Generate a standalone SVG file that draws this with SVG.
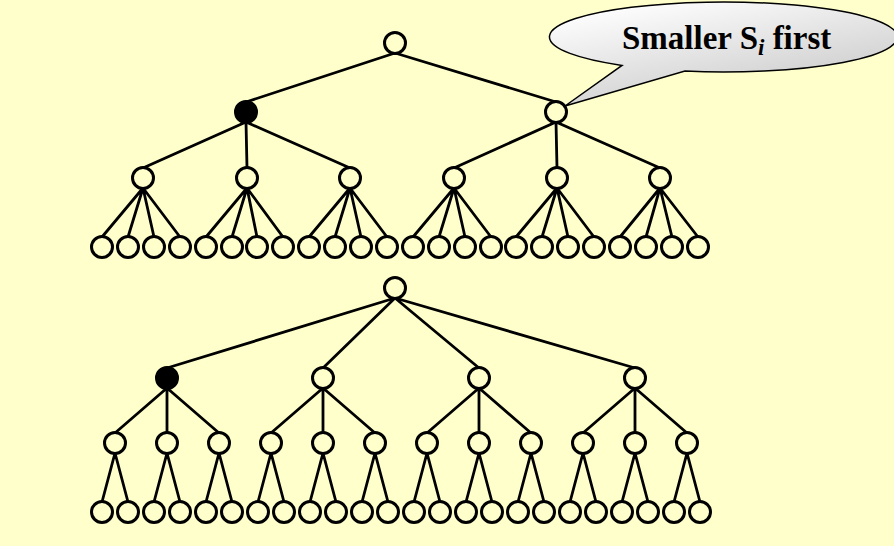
<svg xmlns="http://www.w3.org/2000/svg" width="894" height="546" viewBox="0 0 894 546">
<defs>
<linearGradient id="cg" x1="0.2" y1="0" x2="0.8" y2="1">
<stop offset="0" stop-color="#ffffff"/>
<stop offset="1" stop-color="#c4c4c4"/>
</linearGradient>
<style>
.n{fill:#ffffcc;stroke:#000;stroke-width:3}
.f{fill:#000;stroke:#000;stroke-width:3}
.c path{fill:none;stroke:#000;stroke-width:2.8}
.t{font-family:"Liberation Serif","Times New Roman",serif;font-weight:bold;font-size:33px;fill:#000}
</style>
</defs>
<rect width="894" height="546" fill="#ffffcc"/>
<g id="connectors" class="c">
<path d="M395,53L246,102M395,53L556,102"/>
<path d="M246,122L143,168M246,122L247,168M246,122L350,168M556,122L454,168M556,122L557,168M556,122L660,168"/>
<path d="M143,188L102,237M143,188L128,237M143,188L154,237M143,188L180,237"/>
<path d="M247,188L206,237M247,188L232,237M247,188L257,237M247,188L283,237"/>
<path d="M350,188L309,237M350,188L335,237M350,188L361,237M350,188L387,237"/>
<path d="M454,188L413,237M454,188L439,237M454,188L465,237M454,188L491,237"/>
<path d="M557,188L516,237M557,188L542,237M557,188L568,237M557,188L594,237"/>
<path d="M660,188L620,237M660,188L646,237M660,188L672,237M660,188L698,237"/>
<path d="M395,298L167,368M395,298L323,368M395,298L479,368M395,298L635,368"/>
<path d="M167,388L115,433M167,388L167,433M167,388L219,433M323,388L271,433M323,388L323,433M323,388L375,433M479,388L427,433M479,388L479,433M479,388L531,433M635,388L583,433M635,388L635,433M635,388L687,433"/>
<path d="M115,453L102,502M115,453L128,502M167,453L154,502M167,453L180,502M219,453L206,502M219,453L232,502M271,453L258,502M271,453L284,502M323,453L310,502M323,453L336,502M375,453L362,502M375,453L388,502M427,453L414,502M427,453L440,502M479,453L466,502M479,453L492,502M531,453L518,502M531,453L544,502M583,453L570,502M583,453L596,502M635,453L622,502M635,453L648,502M687,453L674,502M687,453L700,502"/>
</g>
<g id="t1-root"><circle class="n" cx="395" cy="43" r="10.5"/></g>
<g id="t1-a"><circle class="f" cx="246" cy="112" r="10.5"/></g>
<g id="t1-b"><circle class="n" cx="556" cy="112" r="10.5"/></g>
<g id="t1-l2-1"><circle class="n" cx="143" cy="178" r="10.5"/></g>
<g id="t1-l2-2"><circle class="n" cx="247" cy="178" r="10.5"/></g>
<g id="t1-l2-3"><circle class="n" cx="350" cy="178" r="10.5"/></g>
<g id="t1-l2-4"><circle class="n" cx="454" cy="178" r="10.5"/></g>
<g id="t1-l2-5"><circle class="n" cx="557" cy="178" r="10.5"/></g>
<g id="t1-l2-6"><circle class="n" cx="660" cy="178" r="10.5"/></g>
<g id="t1-leaf-1"><circle class="n" cx="102" cy="247" r="10.5"/></g>
<g id="t1-leaf-2"><circle class="n" cx="128" cy="247" r="10.5"/></g>
<g id="t1-leaf-3"><circle class="n" cx="154" cy="247" r="10.5"/></g>
<g id="t1-leaf-4"><circle class="n" cx="180" cy="247" r="10.5"/></g>
<g id="t1-leaf-5"><circle class="n" cx="206" cy="247" r="10.5"/></g>
<g id="t1-leaf-6"><circle class="n" cx="232" cy="247" r="10.5"/></g>
<g id="t1-leaf-7"><circle class="n" cx="257" cy="247" r="10.5"/></g>
<g id="t1-leaf-8"><circle class="n" cx="283" cy="247" r="10.5"/></g>
<g id="t1-leaf-9"><circle class="n" cx="309" cy="247" r="10.5"/></g>
<g id="t1-leaf-10"><circle class="n" cx="335" cy="247" r="10.5"/></g>
<g id="t1-leaf-11"><circle class="n" cx="361" cy="247" r="10.5"/></g>
<g id="t1-leaf-12"><circle class="n" cx="387" cy="247" r="10.5"/></g>
<g id="t1-leaf-13"><circle class="n" cx="413" cy="247" r="10.5"/></g>
<g id="t1-leaf-14"><circle class="n" cx="439" cy="247" r="10.5"/></g>
<g id="t1-leaf-15"><circle class="n" cx="465" cy="247" r="10.5"/></g>
<g id="t1-leaf-16"><circle class="n" cx="491" cy="247" r="10.5"/></g>
<g id="t1-leaf-17"><circle class="n" cx="516" cy="247" r="10.5"/></g>
<g id="t1-leaf-18"><circle class="n" cx="542" cy="247" r="10.5"/></g>
<g id="t1-leaf-19"><circle class="n" cx="568" cy="247" r="10.5"/></g>
<g id="t1-leaf-20"><circle class="n" cx="594" cy="247" r="10.5"/></g>
<g id="t1-leaf-21"><circle class="n" cx="620" cy="247" r="10.5"/></g>
<g id="t1-leaf-22"><circle class="n" cx="646" cy="247" r="10.5"/></g>
<g id="t1-leaf-23"><circle class="n" cx="672" cy="247" r="10.5"/></g>
<g id="t1-leaf-24"><circle class="n" cx="698" cy="247" r="10.5"/></g>
<g id="t2-root"><circle class="n" cx="395" cy="288" r="10.5"/></g>
<g id="t2-a"><circle class="f" cx="167" cy="378" r="10.5"/></g>
<g id="t2-b"><circle class="n" cx="323" cy="378" r="10.5"/></g>
<g id="t2-c"><circle class="n" cx="479" cy="378" r="10.5"/></g>
<g id="t2-d"><circle class="n" cx="635" cy="378" r="10.5"/></g>
<g id="t2-l2-1"><circle class="n" cx="115" cy="443" r="10.5"/></g>
<g id="t2-l2-2"><circle class="n" cx="167" cy="443" r="10.5"/></g>
<g id="t2-l2-3"><circle class="n" cx="219" cy="443" r="10.5"/></g>
<g id="t2-l2-4"><circle class="n" cx="271" cy="443" r="10.5"/></g>
<g id="t2-l2-5"><circle class="n" cx="323" cy="443" r="10.5"/></g>
<g id="t2-l2-6"><circle class="n" cx="375" cy="443" r="10.5"/></g>
<g id="t2-l2-7"><circle class="n" cx="427" cy="443" r="10.5"/></g>
<g id="t2-l2-8"><circle class="n" cx="479" cy="443" r="10.5"/></g>
<g id="t2-l2-9"><circle class="n" cx="531" cy="443" r="10.5"/></g>
<g id="t2-l2-10"><circle class="n" cx="583" cy="443" r="10.5"/></g>
<g id="t2-l2-11"><circle class="n" cx="635" cy="443" r="10.5"/></g>
<g id="t2-l2-12"><circle class="n" cx="687" cy="443" r="10.5"/></g>
<g id="t2-leaf-1"><circle class="n" cx="102" cy="512" r="10.5"/></g>
<g id="t2-leaf-2"><circle class="n" cx="128" cy="512" r="10.5"/></g>
<g id="t2-leaf-3"><circle class="n" cx="154" cy="512" r="10.5"/></g>
<g id="t2-leaf-4"><circle class="n" cx="180" cy="512" r="10.5"/></g>
<g id="t2-leaf-5"><circle class="n" cx="206" cy="512" r="10.5"/></g>
<g id="t2-leaf-6"><circle class="n" cx="232" cy="512" r="10.5"/></g>
<g id="t2-leaf-7"><circle class="n" cx="258" cy="512" r="10.5"/></g>
<g id="t2-leaf-8"><circle class="n" cx="284" cy="512" r="10.5"/></g>
<g id="t2-leaf-9"><circle class="n" cx="310" cy="512" r="10.5"/></g>
<g id="t2-leaf-10"><circle class="n" cx="336" cy="512" r="10.5"/></g>
<g id="t2-leaf-11"><circle class="n" cx="362" cy="512" r="10.5"/></g>
<g id="t2-leaf-12"><circle class="n" cx="388" cy="512" r="10.5"/></g>
<g id="t2-leaf-13"><circle class="n" cx="414" cy="512" r="10.5"/></g>
<g id="t2-leaf-14"><circle class="n" cx="440" cy="512" r="10.5"/></g>
<g id="t2-leaf-15"><circle class="n" cx="466" cy="512" r="10.5"/></g>
<g id="t2-leaf-16"><circle class="n" cx="492" cy="512" r="10.5"/></g>
<g id="t2-leaf-17"><circle class="n" cx="518" cy="512" r="10.5"/></g>
<g id="t2-leaf-18"><circle class="n" cx="544" cy="512" r="10.5"/></g>
<g id="t2-leaf-19"><circle class="n" cx="570" cy="512" r="10.5"/></g>
<g id="t2-leaf-20"><circle class="n" cx="596" cy="512" r="10.5"/></g>
<g id="t2-leaf-21"><circle class="n" cx="622" cy="512" r="10.5"/></g>
<g id="t2-leaf-22"><circle class="n" cx="648" cy="512" r="10.5"/></g>
<g id="t2-leaf-23"><circle class="n" cx="674" cy="512" r="10.5"/></g>
<g id="t2-leaf-24"><circle class="n" cx="700" cy="512" r="10.5"/></g>
<g id="callout">
<path d="M685,71.1A174,35 0 1 0 622,65.4L565,106Z" fill="url(#cg)" stroke="#000" stroke-width="1.5"/>
<text class="t" x="622" y="49">Smaller S<tspan font-style="italic" font-size="23" dy="6">i</tspan><tspan dy="-6"> first</tspan></text>
</g>
</svg>
